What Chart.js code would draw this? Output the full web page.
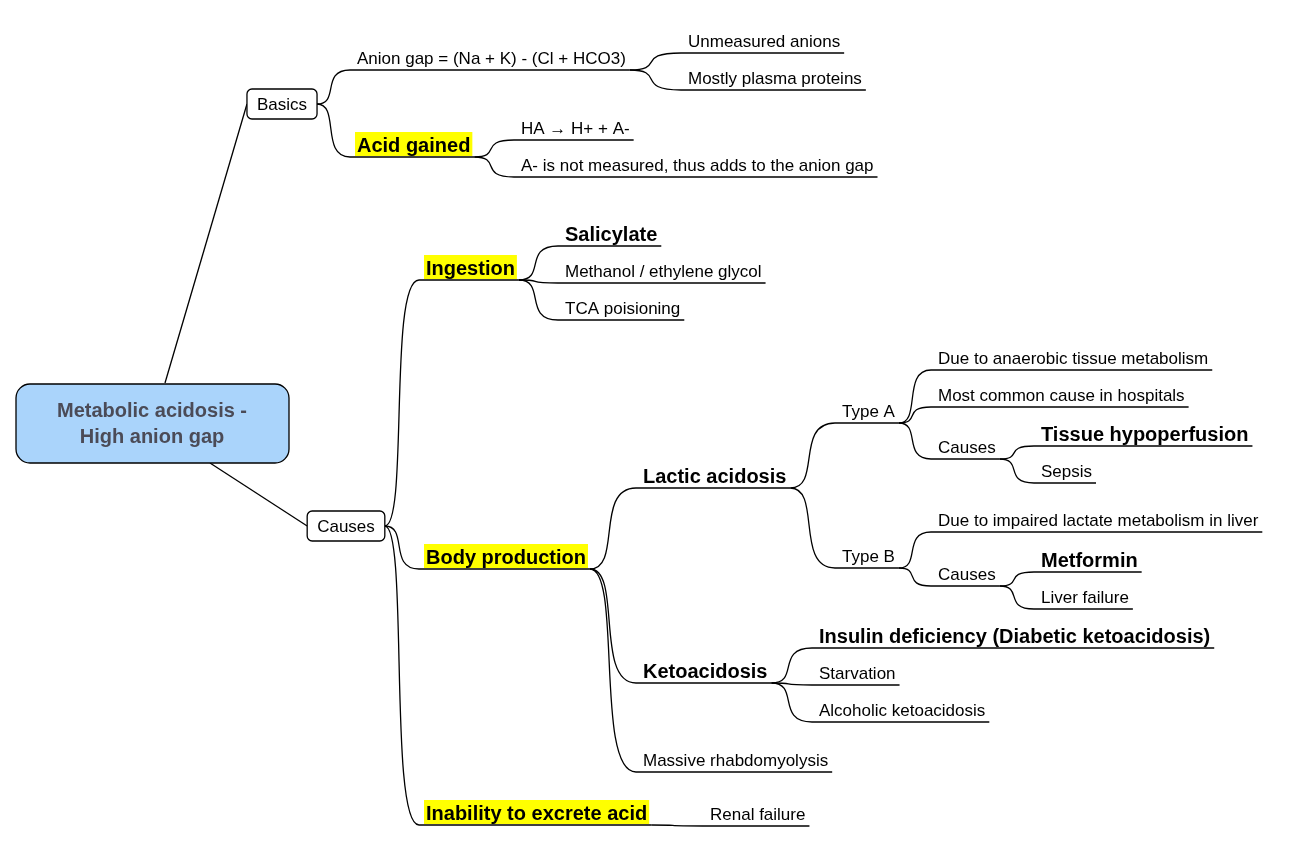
<!DOCTYPE html>
<html><head><meta charset="utf-8">
<script src="https://cdn.jsdelivr.net/npm/chart.js@4"></script>
<style>html,body{margin:0;background:#fff}#c{display:block}</style>
</head><body>
<div style="width:1309px;height:868px"><canvas id="c"></canvas></div>
<script>
// mind map nodes (x = text start, y = underline / centre, in map units)
const nodeLabels = ['Metabolic acidosis -\nHigh anion gap', 'Basics', 'Causes',
  'Anion gap = (Na + K) - (Cl + HCO3)', 'Unmeasured anions', 'Mostly plasma proteins',
  'Acid gained', 'HA \u2192 H+ + A-', 'A- is not measured, thus adds to the anion gap',
  'Ingestion', 'Salicylate', 'Methanol / ethylene glycol', 'TCA poisioning',
  'Body production', 'Lactic acidosis', 'Type A', 'Due to anaerobic tissue metabolism',
  'Most common cause in hospitals', 'Causes', 'Tissue hypoperfusion', 'Sepsis',
  'Type B', 'Due to impaired lactate metabolism in liver', 'Causes', 'Metformin', 'Liver failure',
  'Ketoacidosis', 'Insulin deficiency (Diabetic ketoacidosis)', 'Starvation', 'Alcoholic ketoacidosis',
  'Massive rhabdomyolysis', 'Inability to excrete acid', 'Renal failure'];
const nodeParents = [-1, 0, 0, 1, 3, 3, 1, 6, 6, 2, 9, 9, 9, 2, 13, 14, 15, 15, 15, 18, 18,
  14, 21, 21, 23, 23, 13, 26, 26, 26, 13, 2, 31];
const nodeX = [152, 282, 346, 357, 688, 688, 357, 521, 521, 426, 565, 565, 565, 426, 643, 842, 938,
  938, 938, 1041, 1041, 842, 938, 938, 1041, 1041, 643, 819, 819, 819, 643, 426, 710];
const nodeY = [424, 104, 526, 70, 53, 90, 157, 140, 177, 280, 246, 283, 320, 569, 488, 423, 370,
  407, 459, 446, 483, 568, 532, 586, 572, 609, 683, 648, 685, 722, 772, 825, 826];
// r = root, b = box, n = normal, s = strong, h = highlighted
const nodeKind = ['r', 'b', 'b', 'n', 'n', 'n', 'h', 'n', 'n', 'h', 's', 'n', 'n', 'h', 's', 'n', 'n',
  'n', 'n', 's', 'n', 'n', 'n', 'n', 's', 'n', 's', 's', 'n', 'n', 'n', 'h', 'n'];

const FONT = '"Liberation Sans", Arial, sans-serif';

const mindMap = {
  id: 'mindMap',
  afterDatasetsDraw(chart) {
    const { ctx, scales: { x, y } } = chart;
    const px = v => x.getPixelForValue(v), py = v => y.getPixelForValue(v);
    ctx.save();
    const fontOf = k => (k === 'n' || k === 'b') ? '17px ' + FONT : 'bold 20px ' + FONT;
    const geo = nodeLabels.map((t, i) => {
      const k = nodeKind[i];
      if (k === 'r') return { l: px(16), r: px(289), t: py(384), b: py(463) };
      ctx.font = fontOf(k);
      const w = ctx.measureText(t).width;
      if (k === 'b') { const cx = px(nodeX[i]); return { l: cx - w / 2 - 10, r: cx + w / 2 + 10, t: py(nodeY[i]) - 15, b: py(nodeY[i]) + 15 }; }
      return { l: px(nodeX[i]) - 7, r: px(nodeX[i]) + w + 4, w };
    });
    // connectors
    ctx.strokeStyle = '#000'; ctx.lineWidth = 1.3;
    nodeLabels.forEach((t, i) => {
      const p = nodeParents[i];
      if (p < 0) return;
      const cy = py(nodeY[i]);
      ctx.beginPath();
      if (p === 0) {
        const sx = i === 1 ? px(165) : px(210), sy = i === 1 ? py(383) : py(463);
        ctx.moveTo(sx, sy);
        ctx.quadraticCurveTo((sx + geo[i].l) / 2, (sy + cy) / 2, geo[i].l, cy);
      } else {
        const sx = geo[p].r, sy = py(nodeY[p]);
        const ex = geo[i].l, dx = ex - sx;
        ctx.moveTo(sx, sy);
        ctx.bezierCurveTo(sx + dx * 0.7, sy, sx + dx * 0.1, cy, ex, cy);
      }
      ctx.stroke();
    });
    // nodes
    nodeLabels.forEach((t, i) => {
      const k = nodeKind[i], g = geo[i];
      if (k === 'r' || k === 'b') {
        ctx.beginPath();
        ctx.roundRect(g.l, g.t, g.r - g.l, g.b - g.t, k === 'r' ? 14 : 5);
        ctx.fillStyle = k === 'r' ? '#aad4fb' : '#fff';
        ctx.fill(); ctx.lineWidth = 1.3; ctx.stroke();
        ctx.textAlign = 'center'; ctx.textBaseline = 'middle';
        if (k === 'r') {
          ctx.font = 'bold 20px ' + FONT; ctx.fillStyle = '#4b4b57';
          t.split('\n').forEach((s, j) => ctx.fillText(s, px(nodeX[i]), py(nodeY[i]) + (j ? 13 : -13)));
        } else {
          ctx.font = fontOf(k); ctx.fillStyle = '#000';
          ctx.fillText(t, px(nodeX[i]), py(nodeY[i]) + 1);
        }
        return;
      }
      const ux = py(nodeY[i]);
      if (k === 'h') { ctx.fillStyle = '#ffff00'; ctx.fillRect(px(nodeX[i]) - 2, ux - 25, g.w + 4, 24); }
      ctx.font = fontOf(k); ctx.fillStyle = '#000';
      ctx.textAlign = 'left'; ctx.textBaseline = 'alphabetic';
      ctx.fillText(t, px(nodeX[i]), ux - (k === 'n' ? 6 : 5));
      ctx.beginPath(); ctx.moveTo(g.l, ux); ctx.lineTo(g.r, ux); ctx.lineWidth = 1.3; ctx.stroke();
    });
    ctx.restore();
  }
};

new Chart(document.getElementById('c'), {
  type: 'scatter',
  data: { datasets: [{ data: nodeX.map((v, i) => ({ x: v, y: nodeY[i] })), pointRadius: 0 }] },
  options: {
    responsive: true, maintainAspectRatio: false, animation: false,
    layout: { padding: 0 },
    plugins: { legend: { display: false }, tooltip: { enabled: false } },
    scales: {
      x: { type: 'linear', min: 0, max: 1309, display: false },
      y: { type: 'linear', min: 0, max: 868, reverse: true, display: false }
    }
  },
  plugins: [mindMap]
});
</script>
</body></html>
